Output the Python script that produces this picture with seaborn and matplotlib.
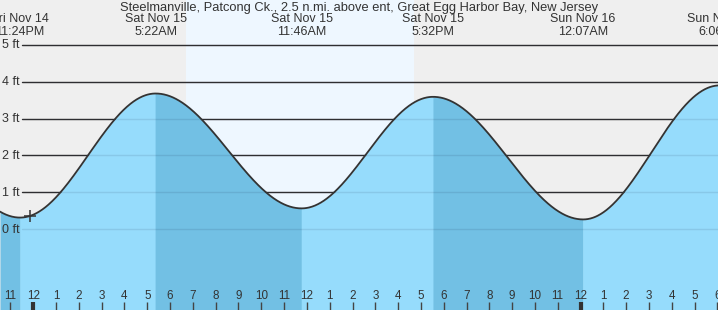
import numpy as np
import pandas as pd
import matplotlib
matplotlib.use("Agg")
import matplotlib.pyplot as plt
import seaborn as sns

sns.set_style("white")
plt.rcParams["font.family"] = ["Liberation Sans", "DejaVu Sans"]

# ---------------- data ----------------
title = "Steelmanville, Patcong Ck., 2.5 n.mi. above ent, Great Egg Harbor Bay, New Jersey"
# tide extremes: hours relative to Sat Nov 15 00:00, heights in ft
ext_hours = [-6.8, -0.58, 5.367, 11.767, 17.533, 24.117, 30.1]
ext_heights = [3.65, 0.31, 3.68, 0.56, 3.59, 0.26, 3.9]
ext_day = [None, "Fri Nov 14", "Sat Nov 15", "Sat Nov 15", "Sat Nov 15", "Sun Nov 16", "Sun Nov 16"]
ext_time = [None, "11:24PM", "5:22AM", "11:46AM", "5:32PM", "12:07AM", "6:06AM"]
sunrise, sunset = 6.7, 16.7
now_hour, now_height = -0.145, 0.35
y_levels = [0, 1, 2, 3, 4, 5]
y_labels = ["0 ft", "1 ft", "2 ft", "3 ft", "4 ft", "5 ft"]
hour_ticks = list(range(-1, 31))
hour_labels = ["11", "12", "1", "2", "3", "4", "5", "6", "7", "8", "9", "10", "11",
               "12", "1", "2", "3", "4", "5", "6", "7", "8", "9", "10", "11",
               "12", "1", "2", "3", "4", "5", "6"]

# ---------------- layout ----------------
W, H = 718, 310
xmin, xmax = -1.46, 30.03
ymin, ymax = -2.2, 6.22
px_x = (xmax - xmin) / W
px_y = (ymax - ymin) / H

fig = plt.figure(figsize=(W / 100, H / 100), dpi=100)
ax = fig.add_axes([0, 0, 1, 1])
ax.set_xlim(xmin, xmax)
ax.set_ylim(ymin, ymax)
ax.set_facecolor("#efefef")
fig.patch.set_facecolor("#efefef")
for s in ax.spines.values():
    s.set_visible(False)

ax.axvspan(sunrise, sunset, color="#eef7ff", zorder=0, lw=0)

# tidal curve (cosine shape between extremes)
t = np.linspace(xmin, xmax, 1200)
eh = np.array(ext_hours)
ev = np.array(ext_heights)
idx = np.clip(np.searchsorted(eh, t) - 1, 0, len(eh) - 2)
t0, t1 = eh[idx], eh[idx + 1]
v0, v1 = ev[idx], ev[idx + 1]
frac = (t - t0) / (t1 - t0)
h = v0 + (v1 - v0) * (1 - np.cos(np.pi * frac)) / 2
df = pd.DataFrame({"hour": t, "height": h})

# gridlines (dark), under water
x_start = 22 / W
for v in y_levels[1:]:
    ax.axhline(v, xmin=x_start, color="#333333", lw=1, zorder=1)

# water fill, banded by rising/falling
light, dark = "#96dcfc", "#72c0e4"
for i in range(len(eh) - 1):
    m = (t >= eh[i]) & (t <= eh[i + 1])
    if m.sum() == 0:
        continue
    ii = np.where(m)[0]
    lo, hi = max(ii[0] - 1, 0), min(ii[-1] + 2, len(t))
    col = dark if ev[i] > ev[i + 1] else light
    ax.fill_between(t[lo:hi], ymin, h[lo:hi], color=col, lw=0, zorder=2)

# faint gridlines over water
for v in y_levels:
    ax.axhline(v, xmin=x_start, color=(0, 0, 0.15, 0.09), lw=1, zorder=3)

sns.lineplot(data=df, x="hour", y="height", ax=ax, color="#333333",
             linewidth=1.3, zorder=4, estimator=None, sort=False)
ax.set_xlabel("")
ax.set_ylabel("")
ax.set_xlim(xmin, xmax)
ax.set_ylim(ymin, ymax)
ax.set_xticks([])
ax.set_yticks([])

ax.plot([now_hour], [now_height], marker="+", ms=9, mew=1.1, color="#333333", zorder=5)

# y labels
for v, lab in zip(y_levels, y_labels):
    ax.text(xmin + 2 * px_x, v - 0.5 * px_y, lab, ha="left", va="center", fontsize=9,
            color="#333333", zorder=6)

# hour ticks and labels
for hr, lab in zip(hour_ticks, hour_labels):
    midnight = hr % 24 == 0
    ax.vlines(hr, ymin, ymin + 8 * px_y, color="#333333" if midnight else "#444444",
              lw=3 if midnight else 1, zorder=6)
    ax.text(hr, ymax - 296 * px_y, lab, ha="center", va="center", fontsize=8.4,
            color="#333333", zorder=6)

# title and extreme labels
ax.text((xmin + xmax) / 2, ymax - 7.5 * px_y, title, ha="center", va="center",
        fontsize=9.3, color="#333333", zorder=6)
for hr, d, tm in zip(ext_hours, ext_day, ext_time):
    if d is None:
        continue
    ax.text(hr, ymax - 19 * px_y, d, ha="center", va="center", fontsize=9,
            color="#333333", zorder=6, clip_on=False)
    ax.text(hr, ymax - 32 * px_y, tm, ha="center", va="center", fontsize=9,
            color="#333333", zorder=6, clip_on=False)

fig.savefig("out.png", dpi=100, facecolor=fig.get_facecolor())
